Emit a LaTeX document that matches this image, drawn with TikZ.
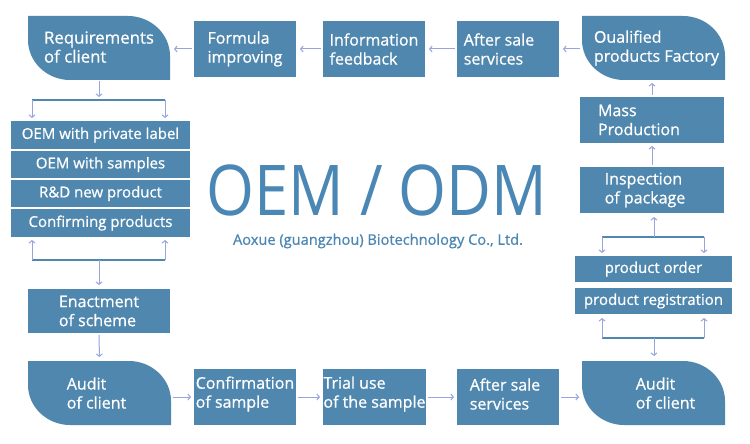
\documentclass[tikz,border=0pt]{standalone}
\usepackage{fontspec}
\usepackage{graphicx}
\setmainfont{Open Sans}
\newfontface\bxf{Open Sans}[FakeBold=0.8]
\usetikzlibrary{arrows.meta}
\definecolor{boxc}{RGB}{79,135,174}
\definecolor{titc}{RGB}{74,135,180}
\definecolor{arrc}{RGB}{150,165,222}
\tikzset{
  box/.style={fill=boxc,draw=none,inner sep=0pt,outer sep=0pt},
  frame/.style={draw=none,inner sep=0pt,outer sep=0pt},
  txt/.style={text=white,font=\bxf\fontsize{16}{19}\selectfont,align=left,inner sep=0pt},
  btxt/.style={txt,font=\bxf\fontsize{16.8}{19}\selectfont},
  ltxt/.style={text=white,font=\bxf\fontsize{15}{18}\selectfont,inner sep=0pt},
  arr/.style={draw=arrc,line width=1pt,-{Straight Barb[length=2.5pt,width=6pt]}},
  brk/.style={draw=boxc,line width=2pt},
}
% rectangular box: opts, name, x1, y1, x2, y2
\newcommand\rbox[6][]{%
  \pgfmathsetmacro\bcx{(#3+#5)/2}\pgfmathsetmacro\bcy{(#4+#6)/2}%
  \pgfmathsetmacro\bw{#5-#3}\pgfmathsetmacro\bh{#6-#4}%
  \node[box,minimum width=\bw pt,minimum height=\bh pt,#1] (#2) at (\bcx,\bcy) {};}
% document-like box with two rounded corners: name, x1, y1, x2, y2
\newcommand\dbox[5]{%
  \fill[boxc] (#2,#3) -- ({#4-42},#3) .. controls ({#4-19},#3) and (#4,{#3+18}) .. (#4,{#3+40})
    -- (#4,#5) -- ({#2+42},#5) .. controls ({#2+19},#5) and (#2,{#5-18}) .. (#2,{#5-40}) -- cycle;
  \pgfmathsetmacro\bcx{(#2+#4)/2}\pgfmathsetmacro\bcy{(#3+#5)/2}%
  \pgfmathsetmacro\bw{#4-#2}\pgfmathsetmacro\bh{#5-#3}%
  \node[frame,minimum width=\bw pt,minimum height=\bh pt] (#1) at (\bcx,\bcy) {};}
\begin{document}
\begin{tikzpicture}[x=1pt,y=-1pt]
\useasboundingbox (0,0) rectangle (750,444);
\fill[white] (0,0) rectangle (750,444);

% ---- boxes ----
\dbox{req}{28}{16}{170}{80}
\rbox{formula}{194}{21}{296}{77}
\rbox{info}{323}{21}{425}{77}
\rbox{aftertop}{457}{21}{559}{77}
\dbox{qual}{582}{16}{725}{80}
\rbox{mass}{580}{97}{724}{143}
\rbox{insp}{580}{167}{724}{213}
\rbox{order}{575}{256}{732}{282}
\rbox{reg}{575}{288}{732}{314}
\dbox{auditR}{582}{361}{725}{425}
\rbox{afterbot}{457}{369}{559}{425}
\rbox{trial}{323}{369}{426}{425}
\rbox{conf}{194}{369}{296}{425}
\dbox{auditL}{28}{361}{171}{425}
\rbox{enact}{28}{289}{170}{333}
\rbox{l1}{11}{121}{190}{149}
\rbox{l2}{11}{151}{190}{178}
\rbox{l3}{11}{180}{190}{207}
\rbox{l4}{11}{209}{190}{237}

% ---- texts ----
\node[btxt] (req-t) at ([yshift=1pt]req.center) {Requirements\\of client};
\node[txt] (formula-t) at (formula.center) {Formula\\improving};
\node[txt] (info-t) at (info.center) {Information\\feedback};
\node[txt] (aftertop-t) at ([xshift=-9pt]aftertop.center) {After sale\\services};
\node[txt] (qual-t) at ([xshift=3pt]qual.center) {Oualified\\products Factory};
\node[txt] (mass-t) at ([xshift=-13pt]mass.center) {Mass\\Production};
\node[txt] (insp-t) at ([xshift=-7pt]insp.center) {Inspection\\of package};
\node[ltxt] (order-t) at (order.center) {product order};
\node[ltxt] (reg-t) at (reg.center) {product registration};
\node[txt] (auditR-t) at ([xshift=12pt]auditR.center) {Audit\\of client};
\node[txt] (afterbot-t) at ([xshift=-3pt,yshift=3pt]afterbot.center) {After sale\\services};
\node[txt] (trial-t) at ([yshift=3pt]trial.center) {Trial use\\of the sample};
\node[txt] (conf-t) at ([yshift=3pt]conf.center) {Confirmation\\of sample};
\node[txt] (auditL-t) at ([xshift=-3pt]auditL.center) {Audit\\of client};
\node[txt] (enact-t) at (enact.center) {Enactment\\of scheme};
\node[ltxt] (l1-t) at (l1.center) {OEM with private label};
\node[ltxt] (l2-t) at (l2.center) {OEM with samples};
\node[ltxt] (l3-t) at (l3.center) {R\&D new product};
\node[ltxt] (l4-t) at (l4.center) {Confirming products};

% ---- title ----
\node[text=titc,font=\fontsize{70}{70}\selectfont,inner sep=0pt] (title) at (377,190) {\scalebox{0.88}[1]{OEM / ODM}};
\node[text=titc,font=\bxf\fontsize{14.6}{17}\selectfont,inner sep=0pt] (sub) at (378,241) {Aoxue (guangzhou) Biotechnology Co., Ltd.};

% ---- top row arrows ----
\draw[arr,shorten >=4pt,shorten <=2pt] (formula.west) -- (formula.west-|req.east);
\draw[arr,shorten >=4pt,shorten <=2pt] (info.west) -- (formula.east);
\draw[arr,shorten >=4pt,shorten <=2pt] (aftertop.west) -- (info.east);
\draw[arr,shorten >=4pt,shorten <=2pt] (aftertop.east-|qual.west) -- (aftertop.east);

% ---- right column ----
\draw[arr,shorten >=3pt,shorten <=2pt] (mass.north) -- (mass.north|-qual.south);
\draw[arr,shorten >=3pt,shorten <=2pt] (insp.north) -- (mass.south);
\coordinate (rt1) at (602,237);
\coordinate (rt2) at (704,237);
\coordinate (rtm) at (654,237);
\draw[brk] (rt1) -- (rt2);
\draw[arr,shorten >=4pt] (rtm) -- (rtm|-insp.south);
\draw[arr,shorten >=3pt] (rt1) -- (rt1|-order.north);
\draw[arr,shorten >=3pt] (rt2) -- (rt2|-order.north);
\coordinate (rb1) at (602,338);
\coordinate (rb2) at (704,338);
\coordinate (rbm) at (654,338);
\draw[brk] (rb1) -- (rb2);
\draw[arr,shorten >=4pt] (rb1) -- (rb1|-reg.south);
\draw[arr,shorten >=4pt] (rb2) -- (rb2|-reg.south);
\draw[arr,shorten >=5pt] (rbm) -- (rbm|-auditR.north);

% ---- left column ----
\coordinate (lt1) at (32,100);
\coordinate (lt2) at (165,100);
\coordinate (ltm) at (99,100);
\draw[brk] (lt1) -- (lt2);
\draw[arr,shorten >=3pt,shorten <=1pt] (req.south) -- (ltm);
\draw[arr,shorten >=3pt] (lt1) -- (lt1|-l1.north);
\draw[arr,shorten >=3pt] (lt2) -- (lt2|-l1.north);
\coordinate (lb1) at (32,260);
\coordinate (lb2) at (165,260);
\coordinate (lbm) at (99,260);
\draw[brk] (lb1) -- (lb2);
\draw[arr,shorten >=3pt] (lb1) -- (lb1|-l4.south);
\draw[arr,shorten >=3pt] (lb2) -- (lb2|-l4.south);
\draw[arr,shorten >=4pt] (lbm) -- (lbm|-enact.north);
\draw[arr,shorten >=4pt,shorten <=2pt] (enact.south) -- (auditL.north);

% ---- bottom row arrows ----
\draw[arr,shorten >=3pt,shorten <=2pt] (conf.west-|auditL.east) -- (conf.west);
\draw[arr,shorten >=3pt,shorten <=2pt] (conf.east) -- (trial.west);
\draw[arr,shorten >=3pt,shorten <=2pt] (trial.east) -- (afterbot.west);
\draw[arr,shorten >=3pt,shorten <=2pt] (afterbot.east) -- (afterbot.east-|auditR.west);
\end{tikzpicture}
\end{document}
